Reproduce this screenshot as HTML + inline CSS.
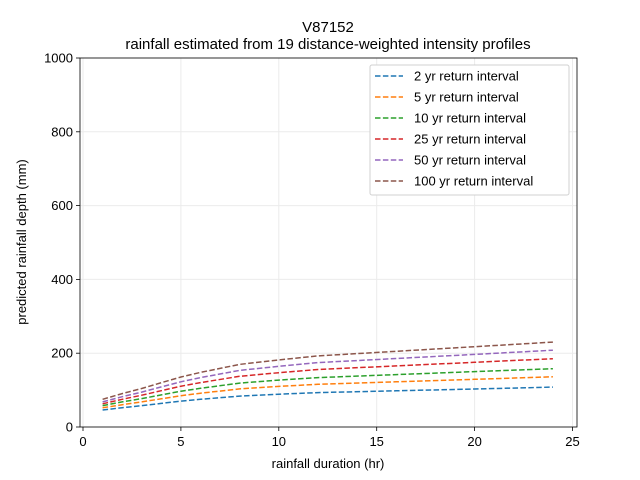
<!DOCTYPE html>
<html><head><meta charset="utf-8"><style>
body{margin:0;background:#fff;}
svg{display:block;font-family:"Liberation Sans","DejaVu Sans",sans-serif;}
</style></head><body>
<svg id="s" width="640" height="480" viewBox="0 0 640 480" xmlns="http://www.w3.org/2000/svg">
<rect width="640" height="480" fill="#fff"/>
<g id="grid" stroke="#ebebeb" stroke-width="1"></g>
<g id="series" fill="none" stroke-width="1.5" stroke-dasharray="5.5,2.4"></g>
<rect x="80" y="58" width="497" height="369" fill="none" stroke="#000" stroke-width="0.8"/>
<g id="ticks" stroke="#000" stroke-width="0.8"></g>
<g id="labels" font-size="13" fill="#000"></g>
<text x="328" y="32" font-size="15" text-anchor="middle">V87152</text>
<text x="328" y="49" font-size="15" text-anchor="middle">rainfall estimated from 19 distance-weighted intensity profiles</text>
<text x="328" y="468" font-size="13" text-anchor="middle">rainfall duration (hr)</text>
<text transform="translate(26,242) rotate(-90)" font-size="13" text-anchor="middle">predicted rainfall depth (mm)</text>
<rect x="370" y="65" width="199" height="130" fill="#fff" stroke="#d0d0d0" rx="2"/>
<g id="legend" font-size="13"></g>
</svg>
<script>
var ns="http://www.w3.org/2000/svg";
function el(p,t,a,txt){var e=document.createElementNS(ns,t);for(var k in a)e.setAttribute(k,a[k]);if(txt!=null)e.textContent=txt;document.getElementById(p).appendChild(e);}
function X(d){return 83+d*19.58;}
function Y(v){return 427-v*0.369;}
for(var i=0;i<=5;i++){var x=X(i*5);el("grid","line",{x1:x,x2:x,y1:58,y2:427});el("ticks","line",{x1:x,x2:x,y1:427,y2:431});el("labels","text",{x:x,y:446,"text-anchor":"middle"},String(i*5));}
for(var i=0;i<=5;i++){var y=Y(i*200);el("grid","line",{x1:80,x2:577,y1:y,y2:y});el("ticks","line",{x1:76,x2:80,y1:y,y2:y});el("labels","text",{x:73,y:y+4.5,"text-anchor":"end"},String(i*200));}
var ds=[1,2,3,4,5,6,8,10,12,16,20,24];
var g=[0,0.1,0.19,0.29,0.39,0.47,0.61,0.69,0.76,0.84,0.92,1];
var cols=["#1f77b4","#ff7f0e","#2ca02c","#d62728","#9467bd","#8c564b"];
var v1=[46,52,58,63,68,75],v24=[108,136,158,185,208,230];
var names=["2","5","10","25","50","100"];
for(var s=0;s<6;s++){var p="";for(var j=0;j<ds.length;j++){var v=v1[s]+(v24[s]-v1[s])*g[j];p+=(j?"L":"M")+X(ds[j]).toFixed(1)+","+Y(v).toFixed(1);}
el("series","path",{d:p,stroke:cols[s]});
var ly=76+s*21;
el("legend","line",{x1:375,x2:403,y1:ly,y2:ly,stroke:cols[s],"stroke-width":1.5,"stroke-dasharray":"5.5,2.4"});
el("legend","text",{x:414,y:ly+4.5},names[s]+" yr return interval");}
</script>
</body></html>
